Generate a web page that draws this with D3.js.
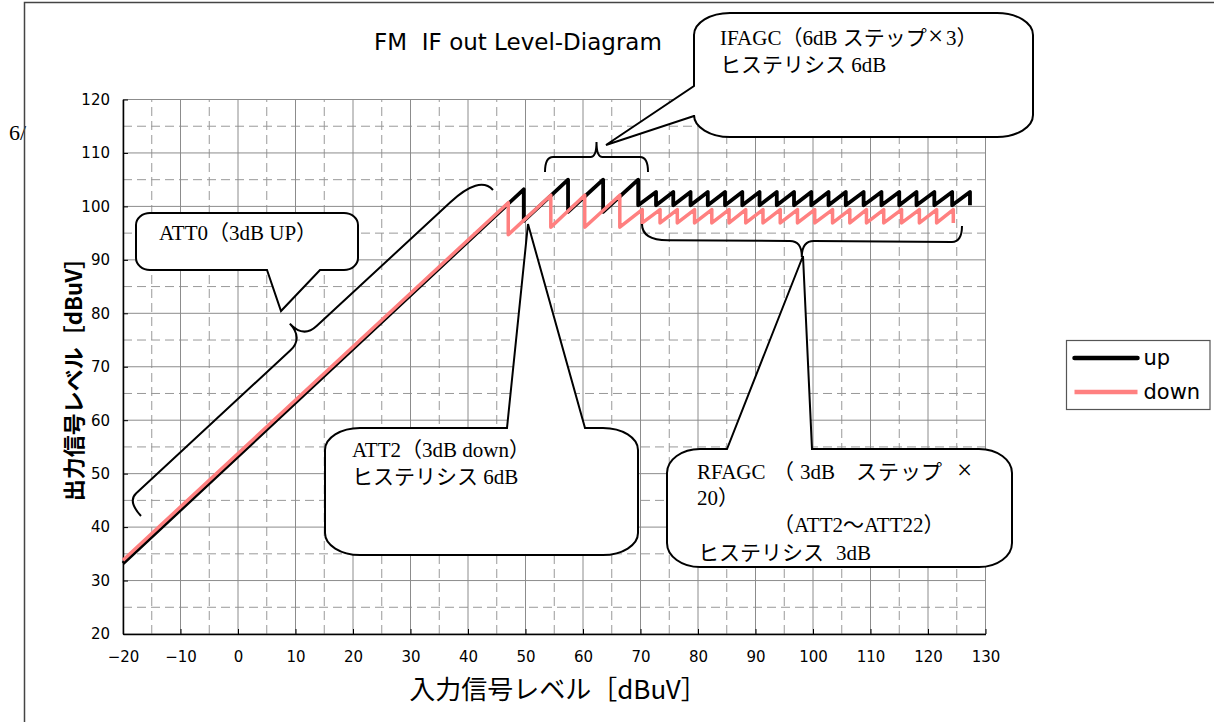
<!DOCTYPE html>
<html>
<head>
<meta charset="utf-8">
<script src="https://cdn.jsdelivr.net/npm/d3@7"></script>
<style>
  html, body { margin: 0; padding: 0; background: #fff; }
  svg { display: block; }
</style>
</head>
<body>
<svg></svg>
<script>
const width = 1214;
const height = 722;

// input / output levels [dBuV], corners of the "up" curve
const upInput = [-20, 49.7, 49.7, 57.4, 57.4, 63.5, 63.5, 69.6, 69.6,
  72.7, 72.7, 75.7, 75.7, 78.7, 78.7, 81.7, 81.7, 84.7, 84.7, 87.7, 87.7,
  90.7, 90.7, 93.7, 93.7, 96.7, 96.7, 99.7, 99.7, 102.7, 102.7, 105.7, 105.7,
  108.8, 108.8, 111.9, 111.9, 115.0, 115.0, 118.0, 118.0, 121.1, 121.1,
  124.2, 124.2, 127.3, 127.3];
const upOutput = [33.2, 103.2, 97.3, 105.0, 99.0, 105.0, 99.0, 105.0, 100.2,
  102.7, 100.2, 102.7, 100.2, 102.7, 100.2, 102.7, 100.2, 102.7, 100.2, 102.7, 100.2,
  102.7, 100.2, 102.7, 100.2, 102.7, 100.2, 102.7, 100.2, 102.7, 100.2, 102.7, 100.2,
  102.7, 100.2, 102.7, 100.2, 102.7, 100.2, 102.7, 100.2, 102.7, 100.2,
  102.7, 100.2, 102.7, 100.2];

// corners of the "down" curve
const downInput = [-20, 47.0, 47.0, 54.4, 54.4, 60.3, 60.3, 66.4, 66.4,
  70.3, 70.3, 73.4, 73.4, 76.4, 76.4, 79.4, 79.4, 82.4, 82.4, 85.4, 85.4,
  88.3, 88.3, 91.3, 91.3, 94.3, 94.3, 97.3, 97.3, 100.3, 100.3, 103.4, 103.4,
  106.4, 106.4, 109.3, 109.3, 112.3, 112.3, 115.4, 115.4, 118.5, 118.5,
  121.5, 121.5, 124.4, 124.4];
const downOutput = [33.8, 100.7, 94.7, 102.1, 96.1, 102.1, 96.1, 102.1, 96.1,
  99.4, 96.9, 99.4, 96.9, 99.4, 96.9, 99.4, 96.9, 99.4, 96.9, 99.4, 96.9,
  99.4, 96.9, 99.4, 96.9, 99.4, 96.9, 99.4, 96.9, 99.4, 96.9, 99.4, 96.9,
  99.4, 96.9, 99.4, 96.9, 99.4, 96.9, 99.4, 96.9, 99.4, 96.9,
  99.4, 96.9, 99.4, 96.9];

const xTicks = [-20, -10, 0, 10, 20, 30, 40, 50, 60, 70, 80, 90, 100, 110, 120, 130];
const yTicks = [20, 30, 40, 50, 60, 70, 80, 90, 100, 110, 120];

const seriesNames = ['up', 'down'];
const seriesColors = ['#000000', '#ff8080'];
const seriesWidths = [3.8, 3.5];

const sans = '"DejaVu Sans", "Noto Sans CJK JP", sans-serif';
const jp = '"Noto Sans CJK JP", sans-serif';
const serif = '"Liberation Serif", "Noto Sans CJK JP", serif';

const svg = d3.select('svg')
  .attr('width', width)
  .attr('height', height);

svg.append('rect').attr('width', width).attr('height', height).attr('fill', '#fff');

// stray text from the page behind the chart
svg.append('text')
  .attr('x', 9).attr('y', 140)
  .attr('font-family', serif).attr('font-size', 22)
  .text('6/');

// chart frame
svg.append('path')
  .attr('d', `M24.5,${height}V2.5H${width}`)
  .attr('fill', 'none').attr('stroke', '#444').attr('stroke-width', 1.5);

const x = d3.scaleLinear().domain([-20, 130]).range([123, 985.5]);
const y = d3.scaleLinear().domain([20, 120]).range([634, 99.5]);

// grid
const grid = svg.append('g');
const xMinor = x.ticks(30).filter(d => !xTicks.includes(d));
const yMinor = y.ticks(20).filter(d => !yTicks.includes(d));

grid.selectAll('.xminor').data(xMinor).enter().append('line')
  .attr('x1', d => x(d)).attr('x2', d => x(d))
  .attr('y1', y(20)).attr('y2', y(120))
  .attr('stroke', '#999').attr('stroke-dasharray', '9,5');
grid.selectAll('.yminor').data(yMinor).enter().append('line')
  .attr('x1', x(-20)).attr('x2', x(130))
  .attr('y1', d => y(d)).attr('y2', d => y(d))
  .attr('stroke', '#999').attr('stroke-dasharray', '9,5');
grid.selectAll('.xmajor').data(xTicks).enter().append('line')
  .attr('x1', d => x(d)).attr('x2', d => x(d))
  .attr('y1', y(20)).attr('y2', y(120))
  .attr('stroke', '#8c8c8c');
grid.selectAll('.ymajor').data(yTicks).enter().append('line')
  .attr('x1', x(-20)).attr('x2', x(130))
  .attr('y1', d => y(d)).attr('y2', d => y(d))
  .attr('stroke', '#8c8c8c');

// axes
const yAxis = svg.append('g')
  .attr('transform', `translate(${x(-20)},0)`)
  .call(d3.axisLeft(y).tickValues(yTicks).tickSizeInner(-5).tickSizeOuter(0).tickPadding(13));
const xAxis = svg.append('g')
  .attr('transform', `translate(0,${y(20)})`)
  .call(d3.axisBottom(x).tickValues(xTicks).tickSizeInner(-5).tickSizeOuter(0).tickPadding(17));

[xAxis, yAxis].forEach(g => {
  g.select('.domain').attr('stroke', '#000').attr('stroke-width', 1.5);
  g.selectAll('.tick line').attr('stroke', '#000');
  g.selectAll('.tick text')
    .attr('font-family', sans).attr('font-size', 15).attr('fill', '#000');
});

// series
const line = d3.line().x(d => x(d[0])).y(d => y(d[1]));
const upData = upInput.map((d, i) => [d, upOutput[i]]);
const downData = downInput.map((d, i) => [d, downOutput[i]]);

[upData, downData].forEach((data, i) => {
  svg.append('path')
    .datum(data)
    .attr('d', line)
    .attr('fill', 'none')
    .attr('stroke', seriesColors[i])
    .attr('stroke-width', seriesWidths[i])
    .attr('stroke-linejoin', 'round');
});

// curly braces
function bracePath(p0, p1, h, r0, r1, rt) {
  const dx = p1[0] - p0[0], dy = p1[1] - p0[1];
  const L = Math.hypot(dx, dy);
  const ux = dx / L, uy = dy / L;
  const nx = -uy, ny = ux;
  const q = h / 2, m = L / 2;
  const P = (u, v) => `${p0[0] + u * ux + v * nx},${p0[1] + u * uy + v * ny}`;
  return `M${P(0, 0)}Q${P(0, q)} ${P(r0, q)}L${P(m - rt, q)}Q${P(m, q)} ${P(m, h)}` +
    `Q${P(m, q)} ${P(m + rt, q)}L${P(L - r1, q)}Q${P(L, q)} ${P(L, 0)}`;
}

const braces = [
  bracePath([141, 516], [493, 190], -40, 12, 40, 18),
  bracePath([545, 172], [648, 172], -30, 8, 8, 6),
  bracePath([642, 224], [962, 226], 32, 26, 10, 12)
];
svg.selectAll('.brace').data(braces).enter().append('path')
  .attr('d', d => d)
  .attr('fill', 'none').attr('stroke', '#000').attr('stroke-width', 2);

// callouts
function calloutPath(b) {
  const { x0, y0, x1, y1, rx, ry, side, a, c, tip } = b;
  const T = `${tip[0]},${tip[1]}`;
  let p = `M${x0 + rx},${y0}`;
  if (side === 'top') p += `L${a},${y0}L${T}L${c},${y0}`;
  p += `L${x1 - rx},${y0}A${rx},${ry} 0 0 1 ${x1},${y0 + ry}`;
  p += `L${x1},${y1 - ry}A${rx},${ry} 0 0 1 ${x1 - rx},${y1}`;
  if (side === 'bottom') p += `L${c},${y1}L${T}L${a},${y1}`;
  p += `L${x0 + rx},${y1}A${rx},${ry} 0 0 1 ${x0},${y1 - ry}`;
  if (side === 'left') p += `L${x0},${c}L${T}L${x0},${a}`;
  p += `L${x0},${y0 + ry}A${rx},${ry} 0 0 1 ${x0 + rx},${y0}Z`;
  return p;
}

// each text line is a list of [string, x, size?] pieces
const callouts = [
  { x0: 136, y0: 213, x1: 358, y1: 270, rx: 14, ry: 12, side: 'bottom', a: 267, c: 320, tip: [281, 311],
    lines: [{ y: 240, parts: [['ATT0（3dB UP）', 159]] }] },
  { x0: 325, y0: 428, x1: 638, y1: 555, rx: 35, ry: 22, side: 'top', a: 507, c: 585, tip: [528, 224],
    lines: [{ y: 457, parts: [['ATT2（3dB down）', 352]] },
            { y: 484, parts: [['ヒステリシス 6dB', 352]] }] },
  { x0: 667, y0: 449, x1: 1012, y1: 567, rx: 33, ry: 24, side: 'top', a: 727, c: 812, tip: [803, 256],
    lines: [{ y: 479, parts: [['RFAGC', 697], ['（', 773], ['3dB', 800], ['ス', 856], ['テ', 878],
                               ['ッ', 900], ['プ', 921], ['×', 957, 27]] },
            { y: 505, parts: [['20）', 697]] },
            { y: 532, parts: [['（ATT2〜ATT22）', 773]] },
            { y: 560, parts: [['ヒステリシス', 698], ['3dB', 836]] }] },
  { x0: 694, y0: 13, x1: 1033, y1: 137, rx: 36, ry: 22, side: 'left', a: 86, c: 116, tip: [606, 145],
    lines: [{ y: 45, parts: [['IFAGC（6dB ステップ', 720], ['×', 928, 27], ['3）', 946]] },
            { y: 72, parts: [['ヒステリシス 6dB', 720]] }] }
];

const cg = svg.selectAll('.callout').data(callouts).enter().append('g');
cg.append('path')
  .attr('d', calloutPath)
  .attr('fill', '#fff').attr('stroke', '#000').attr('stroke-width', 2);
cg.each(function (d) {
  const texts = d3.select(this).selectAll('text').data(d.lines).enter().append('text')
    .attr('y', l => l.y)
    .attr('font-family', serif).attr('font-size', 21).attr('fill', '#000');
  texts.selectAll('tspan').data(l => l.parts).enter().append('tspan')
    .attr('x', p => p[1])
    .attr('font-size', p => p[2] || null)
    .text(p => p[0]);
});

// title and axis titles
svg.append('text')
  .attr('x', 518).attr('y', 50)
  .attr('text-anchor', 'middle')
  .attr('font-family', sans).attr('font-size', 23)
  .text('FM\u00a0\u00a0IF out Level-Diagram');

svg.append('text')
  .attr('x', 558).attr('y', 699)
  .attr('text-anchor', 'middle')
  .attr('font-family', jp).attr('font-size', 26)
  .text('入力信号レベル［dBuV］');

svg.append('text')
  .attr('transform', 'translate(82,374) rotate(-90)')
  .attr('text-anchor', 'middle')
  .attr('font-family', jp).attr('font-size', 22).attr('font-weight', 'bold')
  .text('出力信号レベル［dBuV］');

// legend
const legend = svg.append('g').attr('transform', 'translate(1066.5,340.5)');
legend.append('rect')
  .attr('width', 143.5).attr('height', 69)
  .attr('fill', '#fff').attr('stroke', '#555').attr('stroke-width', 1.2);
const items = legend.selectAll('.item').data(seriesNames).enter().append('g')
  .attr('transform', (d, i) => `translate(0, ${17.5 + i * 34})`);
items.append('line')
  .attr('x1', 8).attr('x2', 71)
  .attr('stroke', (d, i) => seriesColors[i])
  .attr('stroke-width', 4.5)
  .attr('stroke-linecap', (d, i) => i === 0 ? 'round' : 'butt');
items.append('text')
  .attr('x', 77).attr('dy', '0.35em')
  .attr('font-family', sans).attr('font-size', 21)
  .text(d => d);
</script>
</body>
</html>
